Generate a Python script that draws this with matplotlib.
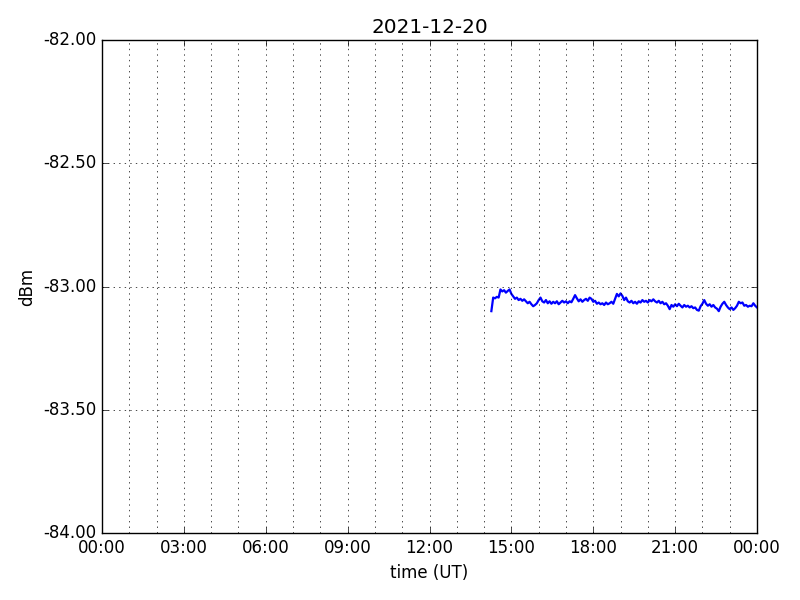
import numpy as np
import matplotlib
matplotlib.use("Agg")
import matplotlib.pyplot as plt
import matplotlib.dates as mdates
import datetime as dt

title = "2021-12-20"
start_time = dt.datetime(2021, 12, 20, 14, 16)
step_minutes = 4
dbm = [
    -83.100, -83.045, -83.048, -83.042, -83.045, -83.012, -83.020, -83.015, -83.025, -83.018,
    -83.012, -83.030, -83.040, -83.050, -83.045, -83.055, -83.050, -83.058, -83.052, -83.060,
    -83.068, -83.062, -83.072, -83.080, -83.075, -83.068, -83.055, -83.045, -83.060, -83.065,
    -83.055, -83.068, -83.060, -83.070, -83.062, -83.068, -83.060, -83.072, -83.065, -83.058,
    -83.065, -83.060, -83.068, -83.060, -83.064, -83.050, -83.035, -83.048, -83.060, -83.052,
    -83.062, -83.055, -83.050, -83.058, -83.045, -83.050, -83.062, -83.058, -83.070, -83.065,
    -83.072, -83.068, -83.075, -83.065, -83.072, -83.068, -83.062, -83.070, -83.050, -83.030,
    -83.040, -83.028, -83.038, -83.055, -83.045, -83.060, -83.065, -83.058, -83.068, -83.062,
    -83.070, -83.060, -83.065, -83.055, -83.062, -83.058, -83.065, -83.055, -83.060, -83.052,
    -83.060, -83.065, -83.058, -83.068, -83.062, -83.072, -83.068, -83.078, -83.092, -83.075,
    -83.082, -83.072, -83.080, -83.070, -83.078, -83.085, -83.075, -83.082, -83.078, -83.085,
    -83.080, -83.088, -83.085, -83.095, -83.098, -83.080, -83.070, -83.055, -83.070, -83.078,
    -83.072, -83.082, -83.075, -83.085, -83.090, -83.100, -83.082, -83.070, -83.062, -83.075,
    -83.085, -83.092, -83.085, -83.095, -83.088, -83.078, -83.062, -83.068, -83.065, -83.078,
    -83.075, -83.082, -83.078, -83.080, -83.068, -83.078, -83.085,
]
times = [start_time + dt.timedelta(minutes=step_minutes * i) for i in range(len(dbm))]
ymin, ymax = -84.0, -82.0
xmin = dt.datetime(2021, 12, 20, 0, 0)
xmax = dt.datetime(2021, 12, 21, 0, 0)

plt.style.use("classic")
plt.rcParams["font.family"] = ["DejaVu Sans"]
fig = plt.figure(figsize=(8, 6), dpi=100, facecolor="white")
ax = fig.add_axes([102 / 800, 67 / 600, 655 / 800, 493 / 600])
ax.set_facecolor("white")
ax.plot(times, dbm, color="b", linewidth=1.6)
ax.set_xlim(xmin, xmax)
ax.set_ylim(ymin, ymax)
ax.xaxis.set_major_locator(mdates.HourLocator(byhour=range(0, 24, 3)))
ax.xaxis.set_minor_locator(mdates.HourLocator())
ax.xaxis.set_major_formatter(mdates.DateFormatter("%H:%M"))
ax.yaxis.set_major_locator(matplotlib.ticker.MultipleLocator(0.5))
ax.yaxis.set_major_formatter(matplotlib.ticker.FormatStrFormatter("%.2f"))
ax.grid(True, which="both", axis="x", color="k", linestyle=":")
ax.grid(True, which="major", axis="y", color="k", linestyle=":")
ax.tick_params(which="minor", length=0)
ax.set_title(title, fontsize=14.4)
ax.set_xlabel("time (UT)", fontsize=12)
ax.set_ylabel("dBm", fontsize=12)
fig.savefig("out.png", dpi=100, facecolor="white")
